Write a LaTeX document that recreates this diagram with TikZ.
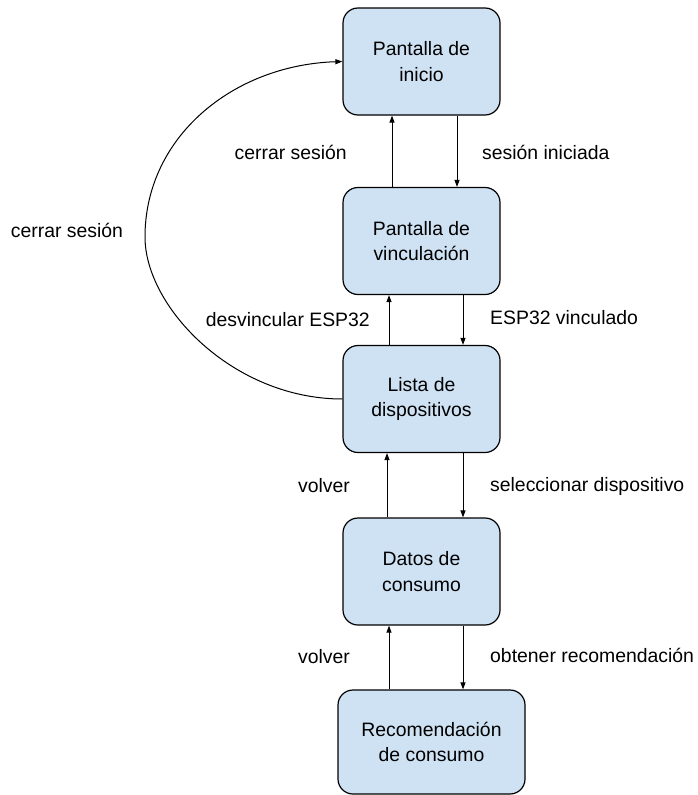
\documentclass[tikz,border=0pt]{standalone}
\usepackage{fontspec}
\setmainfont{Liberation Sans}
\usetikzlibrary{arrows.meta}
\definecolor{boxfill}{HTML}{CFE2F3}
\begin{document}
\begin{tikzpicture}[x=1pt,y=-1pt,
  screen/.style={draw=black, line width=1.2pt, fill=boxfill, rounded corners=15pt,
    minimum width=157pt, minimum height=107pt, align=center, inner sep=0pt,
    font=\fontsize{19.4pt}{25.5pt}\selectfont},
  lbl/.style={font=\fontsize{19.4pt}{23pt}\selectfont, inner sep=0pt},
  arr/.style={line width=1pt, -{Triangle[length=7pt,width=5pt]}}]
\useasboundingbox (0,0) rectangle (697,795);

% screens
\node[screen] (inicio) at (421.5,61.5) {Pantalla de\\inicio};
\node[screen] (vinc) at (421.5,241) {Pantalla de\\vinculación};
\node[screen] (lista) at (421.5,399) {Lista de\\dispositivos};
\node[screen] (datos) at (421.5,571.5) {Datos de\\consumo};
\node[screen, minimum width=187pt, minimum height=104pt] (recom) at (431.5,742) {Recomendación\\de consumo};

% transitions between consecutive screens
\draw[arr] ([xshift=-29.5pt]vinc.north) -- ([xshift=-29.5pt]inicio.south);
\draw[arr] ([xshift=35.5pt]inicio.south) -- ([xshift=35.5pt]vinc.north);
\draw[arr] ([xshift=-32.5pt]lista.north) -- ([xshift=-32.5pt]vinc.south);
\draw[arr] ([xshift=41.5pt]vinc.south) -- ([xshift=41.5pt]lista.north);
\draw[arr] ([xshift=-34.5pt]datos.north) -- ([xshift=-34.5pt]lista.south);
\draw[arr] ([xshift=41.5pt]lista.south) -- ([xshift=41.5pt]datos.north);
\draw[arr] ([xshift=-42.5pt]recom.north) -- ([xshift=-32.5pt]datos.south);
\draw[arr] ([xshift=41.5pt]datos.south) -- ([xshift=31.5pt]recom.north);

% logout shortcut from the device list back to the start screen
\coordinate (bend) at (145,237);
\draw[arr] (lista.west) .. controls (233,399) and (145,307) .. (bend)
  .. controls (145,137) and (233,65) .. (inicio.west);

% labels
\node[lbl, anchor=east] (l1) at (347,152) {cerrar sesión};
\node[lbl, anchor=west] (l2) at (482,152) {sesión iniciada};
\node[lbl] (l3) at (67,230) {cerrar sesión};
\node[lbl, anchor=east] (l4) at (370,320) {desvincular ESP32};
\node[lbl, anchor=west] (l5) at (490,318) {ESP32 vinculado};
\node[lbl, anchor=east] (l6) at (350,486) {volver};
\node[lbl, anchor=west] (l7) at (490,486) {seleccionar dispositivo};
\node[lbl, anchor=east] (l8) at (350,657) {volver};
\node[lbl, anchor=west] (l9) at (490,655) {obtener recomendación};
\end{tikzpicture}
\end{document}
